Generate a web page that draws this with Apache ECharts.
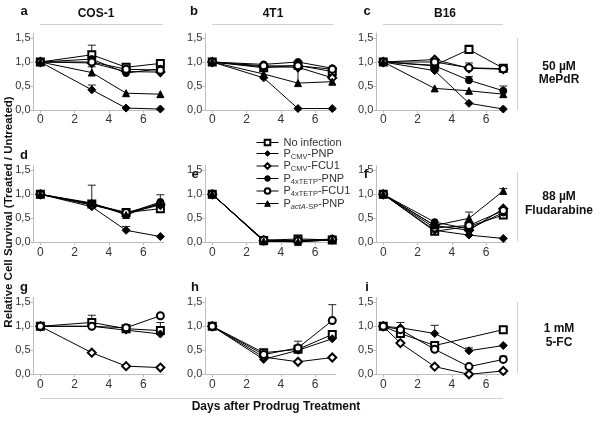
<!DOCTYPE html>
<html>
<head>
<meta charset="utf-8">
<script src="https://cdn.jsdelivr.net/npm/echarts@6/dist/echarts.min.js"></script>
<style>html,body{margin:0;padding:0;background:#fff;}#c{width:600px;height:431px;}</style>
</head>
<body>
<div id="c"></div>
<script>
// ---------- data ----------
const seriesNames = ['No infection','PCMV-PNP','PCMV-FCU1','P4xTETP-PNP','P4xTETP-FCU1','PactA-SP-PNP'];
const seriesSymbols = ['emptyRect','diamond','emptyDiamond','circle','emptyCircle','triangle'];
const daysStd = [0,3,5,7];
const daysI = [0,1,3,5,7];
const xTickLabels = [0,2,4,6];
const yTickLabels = [0,0.5,1,1.5];
const panelLetters = ['a','b','c','d','e','f','g','h','i'];
const cellLines = ['COS-1','4T1','B16'];
const rowLabels = [['50 µM','MePdR'],['88 µM','Fludarabine'],['1 mM','5-FC']];

// rows: one per series in seriesNames order (null = series not shown)
const panelA = [[1,1.15,0.89,0.97],[1,0.42,0.04,0.02],[1,0.98,0.80,0.79],[1,1.06,0.77,0.86],[1,1.00,0.85,0.83],[1,0.78,0.35,0.33]];
const panelB = [[1,0.88,0.93,0.80],[1,0.67,0.03,0.03],[1,0.90,0.89,0.67],[1,0.95,1.00,0.87],[1,0.92,0.92,0.85],[1,0.75,0.56,0.59]];
const panelC = [[1,0.93,1.26,0.87],[1,0.82,0.14,0.02],[1,1.05,0.87,0.85],[1,0.92,0.62,0.40],[1,1.00,0.88,0.86],[1,0.45,0.40,0.33]];
const panelD = [[1,0.80,0.62,0.70],[1,0.74,0.25,0.12],[1,0.78,0.60,0.78],[1,0.80,0.60,0.84],[1,0.78,0.62,0.80],[1,0.82,0.57,0.82]];
const panelE = [[1,0.04,0.07,0.05],[1,0.03,0.01,0.05],[1,0.04,0.04,0.06],[1,0.03,0.02,0.07],[1,0.05,0.03,0.06],[1,0.02,0.01,0.05]];
const panelF = [[1,0.23,0.33,0.57],[1,0.25,0.15,0.08],[1,0.35,0.25,0.70],[1,0.42,0.28,0.62],[1,0.30,0.35,0.66],[1,0.35,0.50,1.07]];
const panelG = [[1,1.08,0.95,0.91],[1,1.00,0.92,0.84],[1,0.45,0.17,0.14],null,[1,1.00,0.97,1.22],null];
const panelH = [[1,0.45,0.52,0.83],[1,0.31,0.50,0.74],[1,0.36,0.26,0.35],null,[1,0.41,0.55,1.12],null];
const panelI = [[1,0.85,0.60,null,0.93],[1,0.97,0.85,0.49,0.60],[1,0.65,0.16,0.00,0.07],null,[1,0.93,0.52,0.16,0.31],null];

// error bars: [day, seriesIndex, upper value]
const errA = [[3,0,1.35],[3,1,0.52],[3,5,0.90]];
const errB = [[5,5,0.90]];
const errC = [[5,0,1.35],[5,2,0.98],[5,3,0.70],[7,3,0.50]];
const errD = [[3,0,1.19],[5,1,0.33],[7,3,0.99]];
const errE = [[5,0,0.10]];
const errF = [[5,5,0.63],[7,5,1.12]];
const errG = [[3,0,1.23],[7,0,1.08]];
const errH = [[5,4,0.69],[7,4,1.45]];
const errI = [[1,4,1.08],[3,1,1.02],[5,1,0.55],[7,4,0.38]];

const panels = [panelA,panelB,panelC,panelD,panelE,panelF,panelG,panelH,panelI];
const panelDays = [daysStd,daysStd,daysStd,daysStd,daysStd,daysStd,daysStd,daysStd,daysI];
const panelErr = [errA,errB,errC,errD,errE,errF,errG,errH,errI];

// ---------- layout ----------
const FONT = 'Liberation Sans, Arial, sans-serif';
const colLeft = [33.5, 205.4, 376.4];
const rowTop = [33.2, 165.5, 297.5];
const gW = 130.3, gH = 76.8;
const axisGray = '#bdbdbd';

const grids = [], xAxes = [], yAxes = [], series = [];
for (let p = 0; p < 9; p++) {
  const r = Math.floor(p / 3), c = p % 3;
  grids.push({left: colLeft[c], top: rowTop[r], width: gW, height: gH});
  xAxes.push({
    type: 'value', gridIndex: p, min: -0.4, max: 7.2,
    axisLine: {show: true, onZero: false, lineStyle: {color: axisGray}},
    axisTick: {show: true, length: 3, customValues: xTickLabels, lineStyle: {color: axisGray}},
    axisLabel: {customValues: xTickLabels, fontSize: 12, color: '#333', fontFamily: FONT, margin: 4},
    splitLine: {show: false}
  });
  yAxes.push({
    type: 'value', gridIndex: p, min: 0, max: 1.6,
    axisLine: {show: true, onZero: false, lineStyle: {color: axisGray}},
    axisTick: {show: true, length: 3, customValues: yTickLabels, lineStyle: {color: axisGray}},
    axisLabel: {customValues: yTickLabels, fontSize: 11, color: '#333', fontFamily: FONT, margin: 3,
      formatter: v => v.toFixed(1).replace('.', ',')},
    splitLine: {show: false}
  });
  const rows = panels[p], days = panelDays[p];
  // error bars
  const ebData = panelErr[p].map(e => {
    const idx = days.indexOf(e[0]);
    return [e[0], rows[e[1]][idx], e[2]];
  });
  series.push({
    type: 'custom', xAxisIndex: p, yAxisIndex: p, z: 1, silent: true,
    encode: {x: 0, y: [1, 2]},
    data: ebData,
    renderItem: function (params, api) {
      const p0 = api.coord([api.value(0), api.value(1)]);
      const p1 = api.coord([api.value(0), api.value(2)]);
      return {type: 'group', children: [
        {type: 'line', shape: {x1: p0[0], y1: p0[1], x2: p1[0], y2: p1[1]}, style: {stroke: '#222', lineWidth: 1}},
        {type: 'line', shape: {x1: p1[0] - 4, y1: p1[1], x2: p1[0] + 4, y2: p1[1]}, style: {stroke: '#222', lineWidth: 1}}
      ]};
    }
  });
  rows.forEach((vals, si) => {
    if (!vals) return;
    series.push({
      type: 'line', name: seriesNames[si], xAxisIndex: p, yAxisIndex: p, z: 3,
      data: days.map((d, i) => [d, vals[i]]),
      connectNulls: true,
      symbol: seriesSymbols[si],
      symbolSize: si === 1 || si === 2 ? 8 : 7,
      showAllSymbol: true,
      lineStyle: {color: '#000', width: 1},
      itemStyle: {color: '#000', borderColor: '#000', borderWidth: 1},
      emphasis: {disabled: true}
    });
  });
}

// ---------- text / decorations ----------
const graphics = [];
const txt = (x, y, text, o) => graphics.push(Object.assign({type: 'text', x: x, y: y,
  style: Object.assign({text: text, font: 'bold 12px ' + FONT, fill: '#111', align: 'center', verticalAlign: 'middle'}, o || {})}));
const ln = (x1, y1, x2, y2) => graphics.push({type: 'line', shape: {x1, y1, x2, y2}, style: {stroke: '#d0d0d0', lineWidth: 1}});

const letterPos = [[24,11],[194,11],[367,11],[24,155],[195,174],[366,174],[24,287],[195,287],[367,287]];
panelLetters.forEach((l, i) => txt(letterPos[i][0], letterPos[i][1], l, {font: 'bold 13px ' + FONT}));
const titleX = [96, 273, 445];
cellLines.forEach((t, i) => txt(titleX[i], 14, t));
[[40,163],[212,333],[383,503]].forEach(s => ln(s[0], 24.5, s[1], 24.5));
const rowMid = [[67,80],[197,211],[329,343]];
rowLabels.forEach((rl, i) => { txt(559, rowMid[i][0], rl[0]); txt(559, rowMid[i][1], rl[1]); });
ln(517.5, 38, 517.5, 110); ln(517.5, 172, 517.5, 241); ln(517.5, 302, 517.5, 373);
ln(40, 398.5, 503, 398.5);
txt(276, 407, 'Days after Prodrug Treatment', {font: 'bold 12px ' + FONT});
graphics.push({type: 'text', x: 9, y: 212, rotation: Math.PI / 2,
  style: {text: 'Relative Cell Survival (Treated / Untreated)', font: 'bold 11.5px ' + FONT, fill: '#111', align: 'center', verticalAlign: 'middle'}});

const legendFmt = {
  'No infection': '{n|No infection}',
  'PCMV-PNP': '{n|P}{s|CMV}{n|-PNP}',
  'PCMV-FCU1': '{n|P}{s|CMV}{n|-FCU1}',
  'P4xTETP-PNP': '{n|P}{s|4xTETP}{n|-PNP}',
  'P4xTETP-FCU1': '{n|P}{s|4xTETP}{n|-FCU1}',
  'PactA-SP-PNP': '{n|P}{si|actA}{s|-SP}{n|-PNP}'
};

const chart = echarts.init(document.getElementById('c'), null, {renderer: 'canvas'});
chart.setOption({
  animation: false,
  backgroundColor: '#fff',
  grid: grids, xAxis: xAxes, yAxis: yAxes, series: series,
  legend: {
    data: seriesNames, orient: 'vertical', left: 256, top: 137,
    itemWidth: 22, itemHeight: 7, itemGap: 0, padding: 0,
    itemStyle: {borderWidth: 1},
    lineStyle: {width: 1},
    formatter: n => legendFmt[n],
    textStyle: {
      color: '#333', fontFamily: FONT, fontSize: 11,
      rich: {
        n: {fontSize: 11, lineHeight: 14, fontFamily: FONT, color: '#333'},
        s: {fontSize: 7.5, lineHeight: 14, verticalAlign: 'bottom', fontFamily: FONT, color: '#333', padding: [4, 0, 0, 0]},
        si: {fontSize: 7.5, lineHeight: 14, fontStyle: 'italic', verticalAlign: 'bottom', fontFamily: FONT, color: '#333', padding: [4, 0, 0, 0]}
      }
    }
  },
  graphic: graphics
});
</script>
</body>
</html>
